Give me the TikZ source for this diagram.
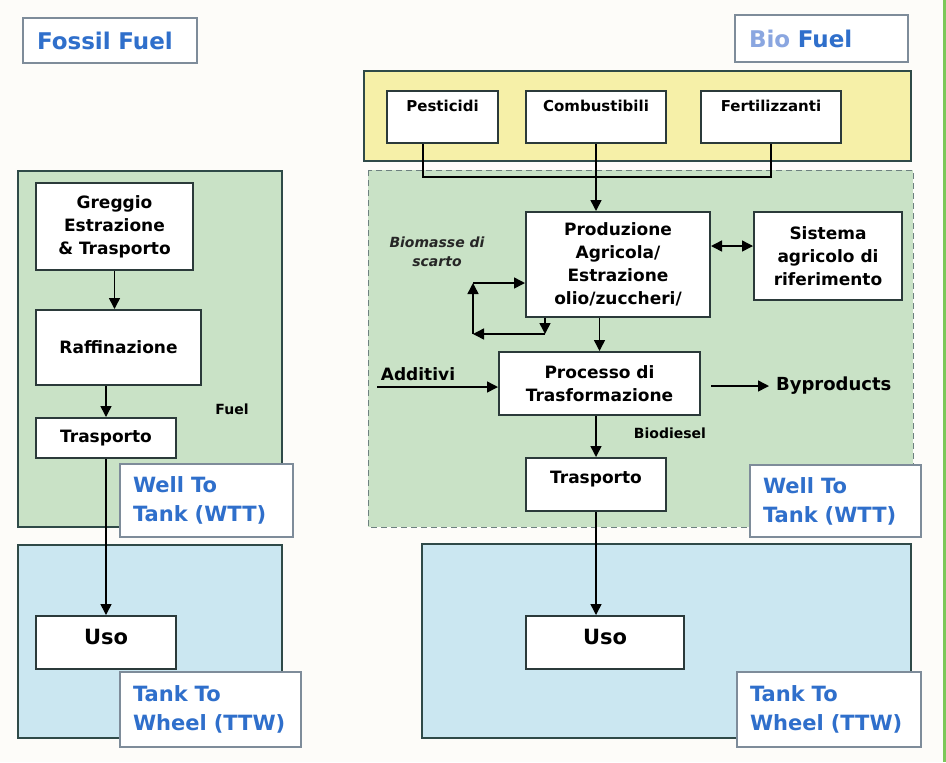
\documentclass[tikz,border=0pt]{standalone}
\usepackage{fontspec}
\setmainfont{DejaVu Sans}
\usepackage{xcolor}
\usetikzlibrary{arrows.meta,positioning}

\definecolor{pagebg}{HTML}{FDFCF9}
\definecolor{greenfill}{HTML}{C9E2C6}
\definecolor{bluefill}{HTML}{CBE7F1}
\definecolor{yellowfill}{HTML}{F6F0A8}
\definecolor{regionline}{HTML}{2F4A48}
\definecolor{boxline}{HTML}{2B3A3A}
\definecolor{tagblue}{HTML}{2F6FCB}
\definecolor{lightblue}{HTML}{8AA6E0}
\definecolor{tagline}{HTML}{7E8C9A}
\definecolor{edgegreen}{HTML}{7CC85A}

\begin{document}
\begin{tikzpicture}[
        x=0.5pt, y=-0.5pt,
        region/.style={
            draw=regionline,
            line width=1pt
        },
        block/.style={
            draw=boxline,
            fill=white,
            line width=1pt,
            align=center,
            inner sep=2pt,
            font=\fontsize{8.5}{11.5}\selectfont\bfseries
        },
        inblock/.style={
            block,
            anchor=north,
            inner ysep=3pt,
            text height=7pt,
            text depth=13pt,
            font=\fontsize{7.5}{9}\selectfont\bfseries
        },
        useblock/.style={
            block,
            anchor=north,
            inner ysep=3pt,
            text height=11pt,
            text depth=9.5pt,
            font=\fontsize{10.5}{12}\selectfont\bfseries
        },
        tag/.style={
            draw=tagline,
            fill=white,
            line width=0.8pt,
            align=left,
            inner xsep=6.5pt,
            text=tagblue,
            font=\fontsize{10.5}{14.5}\selectfont\bfseries
        },
        title/.style={
            draw=tagline,
            fill=white,
            line width=0.8pt,
            align=left,
            inner xsep=7pt,
            text=tagblue,
            font=\fontsize{11.5}{13}\selectfont\bfseries
        },
        note/.style={
            font=\fontsize{7}{8}\selectfont\bfseries
        },
        arrow/.style={
            -{Triangle[length=5.5pt,width=5.5pt]},
            line width=0.75pt
        },
        dblarrow/.style={
            {Triangle[length=5.5pt,width=5.5pt]}-{Triangle[length=5.5pt,width=5.5pt]},
            line width=0.75pt
        },
        line/.style={
            line width=0.75pt
        }
    ]

        \fill[pagebg] (0,0) rectangle (946,762);
        \useasboundingbox (0,0) rectangle (946,762);
        \draw[edgegreen, line width=1.2pt] (944.5,0) -- (944.5,762);

        \draw[region, fill=greenfill] (18,171) rectangle (282,527);
        \draw[region, fill=bluefill] (18,545) rectangle (282,738);
        \draw[region, fill=yellowfill] (364,71) rectangle (911,161);
        \draw[draw=regionline!70, fill=greenfill, line width=0.5pt, dash pattern=on 3pt off 2pt] (368,170) rectangle (913,527);
        \draw[region, fill=bluefill] (422,544) rectangle (911,738);

        \node[title, text width=73pt, minimum height=22.5pt] (fossil) at (110,40.5) {Fossil Fuel};
        \node[title, text width=72.5pt, minimum height=23.5pt] (bio) at (821.5,38.5) {\textcolor{lightblue}{Bio} Fuel};

        \node[block, minimum width=78.5pt, minimum height=43.5pt] (greg) at (114.5,226.5) {Greggio\\Estrazione\\\& Trasporto};
        \node[block, minimum width=82.5pt, minimum height=37.5pt] (raff) at (118.5,347.5) {Raffinazione};
        \node[block, minimum width=70pt, minimum height=20pt] (trasF) at (106,438) {Trasporto};
        \node[note] (fuel) at (232,409) {Fuel};
        \node[useblock, minimum width=70pt] (usoF) at (106,615) {Uso};
        \node[tag, text width=73.5pt, minimum height=36.5pt] (wttF) at (206.5,500.5) {Well To\\Tank (WTT)};
        \node[tag, text width=77.5pt, minimum height=37.5pt] (ttwF) at (210.5,709.5) {Tank To\\Wheel (TTW)};

        \node[inblock, minimum width=55.5pt] (pest) at (442.5,90) {Pesticidi};
        \node[inblock, minimum width=70pt] (comb) at (596,90) {Combustibili};
        \node[inblock, minimum width=70pt] (fert) at (771,90) {Fertilizzanti};

        \node[block, minimum width=92pt, minimum height=52.5pt] (prod) at (618,264.5) {Produzione\\Agricola/\\Estrazione\\olio/zuccheri/};
        \node[block, minimum width=74pt, minimum height=44pt] (sist) at (828,256) {Sistema\\agricolo di\\riferimento};
        \node[font=\fontsize{7}{9.5}\selectfont\bfseries\itshape, text=black!85, align=center] (biom) at (437,252) {Biomasse di\\scarto};
        \node[block, minimum width=100.5pt, minimum height=31.5pt] (proc) at (599.5,383.5) {Processo di\\Trasformazione};
        \node[font=\fontsize{8.5}{10}\selectfont\bfseries] (add) at (418,374) {Additivi};
        \node[font=\fontsize{9}{10}\selectfont\bfseries, anchor=west] (byp) at (769,386) {Byproducts};
        \node[note] (biod) at (670,433) {Biodiesel};
        \node[block, anchor=north, inner ysep=3pt, text height=9.5pt, text depth=11pt, minimum width=70pt] (trasB) at (596,457) {Trasporto};
        \node[useblock, minimum width=79pt] (usoB) at (605,615) {Uso};
        \node[tag, text width=72.5pt, minimum height=36pt] (wttB) at (835.5,501) {Well To\\Tank (WTT)};
        \node[tag, text width=79pt, minimum height=37.5pt] (ttwB) at (829,709.5) {Tank To\\Wheel (TTW)};

        \coordinate (join) at (0,177);
        \coordinate (addS) at (377,387);
        \coordinate (lpA) at (545,334);
        \coordinate (lpB) at (473,334);
        \coordinate (lpC) at (473,283);

        \draw[arrow] (greg.south) -- (greg.south |- raff.north);
        \draw[arrow] (trasF.north |- raff.south) -- (trasF.north);
        \draw[arrow] (trasF.south) -- (usoF.north);

        \draw[line] ([xshift=-9.75pt]pest.south) |- (join -| fert.south) -- (fert.south);
        \draw[arrow] (comb.south) -- (comb.south |- prod.north);
        \draw[dblarrow] (prod.east |- 0,246) -- (sist.west |- 0,246);
        \draw[arrow] (prod.south -| lpA) -- (lpA);
        \draw[arrow] (lpA) -- (lpB);
        \draw[arrow] (lpB) -- (lpC);
        \draw[arrow] (lpC) -- (lpC -| prod.west);
        \draw[arrow] (proc.north |- prod.south) -- (proc.north);
        \draw[arrow] (addS) -- (addS -| proc.west);
        \draw[arrow] ([xshift=5pt]proc.east |- byp) -- (byp.west);
        \draw[arrow] (trasB.north |- proc.south) -- (trasB.north);
        \draw[arrow] (trasB.south) -- (trasB.south |- usoB.north);

    \end{tikzpicture}
\end{document}
